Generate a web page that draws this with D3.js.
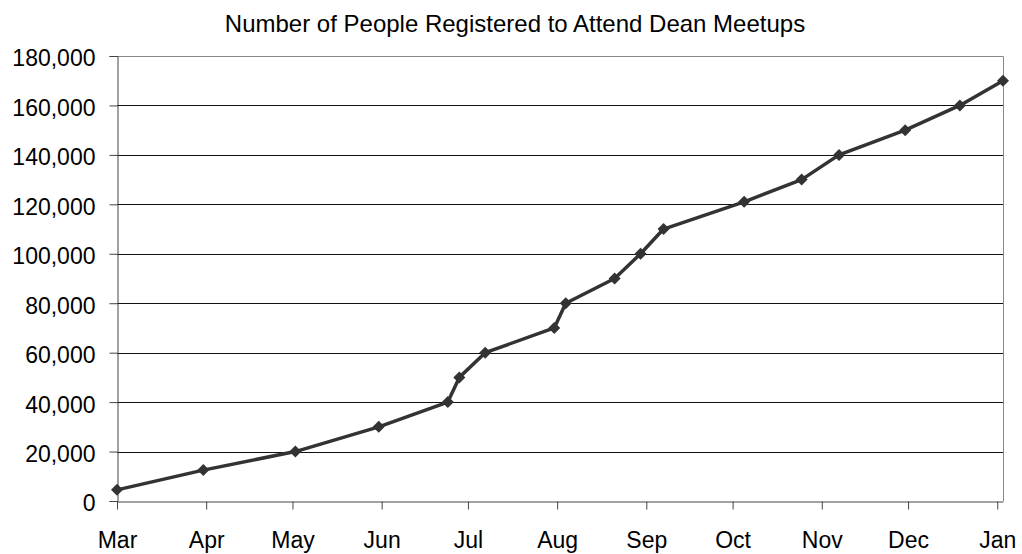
<!DOCTYPE html>
<html>
<head>
<meta charset="utf-8">
<script src="https://cdn.jsdelivr.net/npm/d3@7"></script>
<style>
  html, body { margin: 0; padding: 0; background: #fff; }
  svg { display: block; font-family: "Liberation Sans", Arial, sans-serif; }
</style>
</head>
<body>
<svg id="chart" width="1022" height="554"></svg>
<script>
// Registration dates and cumulative head counts
const dates = [
  "2003-03-01", "2003-03-31", "2003-05-02", "2003-05-31", "2003-06-24",
  "2003-06-28", "2003-07-07", "2003-07-31", "2003-08-04", "2003-08-21",
  "2003-08-30", "2003-09-07", "2003-10-05", "2003-10-25", "2003-11-07",
  "2003-11-30", "2003-12-19", "2004-01-03"
];
const registered = [
  4500, 12500, 20000, 30000, 40000,
  50000, 60000, 70000, 80000, 90000,
  100000, 110000, 121000, 130000, 140000,
  150000, 160000, 170000
];
const yTicks = [0, 20000, 40000, 60000, 80000, 100000, 120000, 140000, 160000, 180000];
const monthTicks = [
  "2003-03-01", "2003-04-01", "2003-05-01", "2003-06-01", "2003-07-01",
  "2003-08-01", "2003-09-01", "2003-10-01", "2003-11-01", "2003-12-01",
  "2004-01-01"
];
const title = "Number of People Registered to Attend Dean Meetups";

const parse = d3.utcParse("%Y-%m-%d");
const points = dates.map((d, i) => ({ date: parse(d), value: registered[i] }));

const svg = d3.select("#chart");
const plot = { left: 117, right: 1003, top: 56, bottom: 501 };

const x = d3.scaleUtc()
  .domain([parse(dates[0]), parse(dates[dates.length - 1])])
  .range([plot.left, plot.right]);
const y = d3.scaleLinear()
  .domain([0, 180000])
  .range([plot.bottom, plot.top]);

// Title
svg.append("text")
  .attr("x", 515)
  .attr("y", 32)
  .attr("text-anchor", "middle")
  .attr("font-size", 24)
  .attr("fill", "#000")
  .text(title);

// Horizontal gridlines
svg.append("g")
  .selectAll("line")
  .data(yTicks.filter(v => v > 0 && v < 180000))
  .join("line")
  .attr("x1", plot.left)
  .attr("x2", plot.right)
  .attr("y1", d => Math.round(y(d)) + 0.5)
  .attr("y2", d => Math.round(y(d)) + 0.5)
  .attr("stroke", "#111")
  .attr("stroke-width", 1);

// Plot-area frame (top and right)
svg.append("path")
  .attr("d", `M${plot.left},${Math.round(plot.top) + 0.5}H${Math.round(plot.right) + 0.5}V${plot.bottom}`)
  .attr("fill", "none")
  .attr("stroke", "#888")
  .attr("stroke-width", 1);

// Y axis
const yAxis = svg.append("g")
  .attr("transform", `translate(${plot.left + 0.5},0)`)
  .call(d3.axisLeft(y)
    .tickValues(yTicks)
    .tickSize(8)
    .tickPadding(14)
    .tickFormat(d3.format(",")));
yAxis.select(".domain").attr("stroke", "#444");
yAxis.selectAll(".tick line").attr("stroke", "#444");
yAxis.selectAll(".tick text")
  .attr("font-size", 23)
  .attr("fill", "#000")
  .attr("font-family", "Liberation Sans, Arial, sans-serif")
  .attr("dy", "0.43em");

// X axis
const xAxis = svg.append("g")
  .attr("transform", `translate(0,${plot.bottom + 0.5})`)
  .call(d3.axisBottom(x)
    .tickValues(monthTicks.map(parse))
    .tickSize(8)
    .tickSizeOuter(0)
    .tickPadding(22)
    .tickFormat(d3.utcFormat("%b")));
xAxis.select(".domain").attr("stroke", "#444");
xAxis.selectAll(".tick line").attr("stroke", "#444");
xAxis.selectAll(".tick text")
  .attr("font-size", 23)
  .attr("fill", "#000")
  .attr("font-family", "Liberation Sans, Arial, sans-serif");

// Series line
const line = d3.line()
  .x(d => x(d.date))
  .y(d => y(d.value));
svg.append("path")
  .datum(points)
  .attr("d", line)
  .attr("fill", "none")
  .attr("stroke", "#333")
  .attr("stroke-width", 3.5)
  .attr("stroke-linejoin", "round");

// Diamond markers
const diamond = d3.symbol().type(d3.symbolSquare).size(72);
svg.append("g")
  .selectAll("path")
  .data(points)
  .join("path")
  .attr("d", diamond)
  .attr("transform", d => `translate(${x(d.date)},${y(d.value)}) rotate(45)`)
  .attr("fill", "#333");
</script>
</body>
</html>
